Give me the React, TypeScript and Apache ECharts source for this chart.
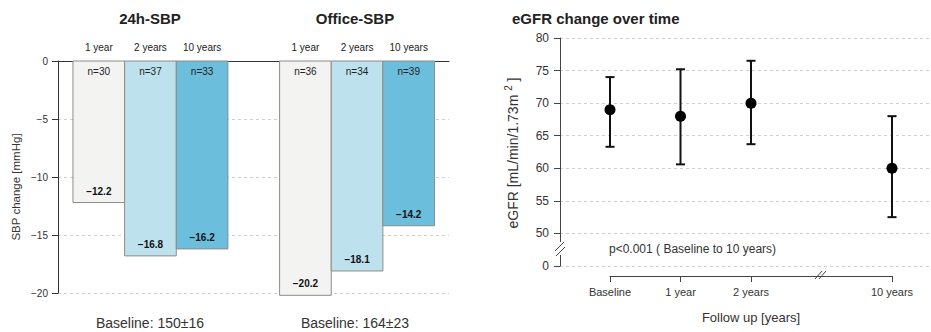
import React, { useEffect, useRef } from "react";
import * as echarts from "echarts";

// ---------- data ----------
const sbpPanels = ["24h-SBP", "Office-SBP"];
const sbpBaselines = ["Baseline: 150±16", "Baseline: 164±23"];
const periods = ["1 year", "2 years", "10 years"];
const sbp24h = [-12.2, -16.8, -16.2];
const sbpOffice = [-20.2, -18.1, -14.2];
const n24h = [30, 37, 33];
const nOffice = [36, 34, 39];

const egfrCats = ["Baseline", "1 year", "2 years", "10 years"];
const egfrMean = [69, 68, 70, 60];
const egfrLow = [63.3, 60.6, 63.7, 52.5];
const egfrHigh = [74.0, 75.2, 76.5, 68.0];
const pText = "p<0.001 ( Baseline to 10 years)";

// ---------- styles ----------
const FONT = "'Liberation Sans', Arial, sans-serif";
const barColors = ["#f3f4f2", "#bde2ee", "#6cbfdc"];
const TXT = "#333";
const AXIS = "#444";
const GRIDLINE = "#cfcfcf";

const minus = (v: number) => (v < 0 ? "\u2212" + Math.abs(v) : String(v));

export default function App() {
  const ref = useRef<HTMLDivElement>(null);

  useEffect(() => {
    if (!ref.current) return;
    const chart = echarts.init(ref.current, null, { renderer: "svg" });

    const slot = periods.length + 1;
    const barData = [sbp24h, sbpOffice].flatMap((vals, g) =>
      vals.map((v, p) => [g * slot + p, v, p, g === 0 ? n24h[p] : nOffice[p]])
    );

    // category axis for eGFR with a gap (axis break) before the last point
    const egfrAxis = [...egfrCats.slice(0, 3), "", egfrCats[3]];

    const dashed = { show: true, lineStyle: { color: GRIDLINE, type: [3, 3] as any, width: 1 } };

    const option: any = {
      animation: false,
      backgroundColor: "#ffffff",
      textStyle: { fontFamily: FONT },
      grid: [
        { left: 58, right: 482, top: 61, bottom: 39, outerBoundsMode: "none" },
        { left: 560, right: 1, top: 38, bottom: 66, outerBoundsMode: "none" },
        { left: 610, right: 39, top: 38, bottom: 66, outerBoundsMode: "none" },
      ],
      xAxis: [
        {
          gridIndex: 0,
          type: "value",
          position: "top",
          min: -0.79,
          max: 6.78,
          axisLine: { show: true, onZero: false, lineStyle: { color: TXT, width: 1 } },
          axisTick: { show: false },
          axisLabel: { show: false },
          splitLine: { show: false },
        },
        {
          gridIndex: 1,
          type: "value",
          show: false,
          min: 0,
          max: 1,
        },
        {
          gridIndex: 2,
          type: "category",
          data: egfrAxis,
          boundaryGap: false,
          offset: 10,
          axisLine: { show: true, onZero: false, lineStyle: { color: AXIS, width: 1 } },
          axisTick: {
            show: true,
            length: 6,
            interval: (i: number) => egfrAxis[i] !== "",
            lineStyle: { color: AXIS },
          },
          axisLabel: {
            interval: 0,
            fontSize: 11,
            color: TXT,
            margin: 10,
            fontFamily: FONT,
          },
          splitLine: { show: false },
          name: "Follow up [years]",
          nameLocation: "middle",
          nameGap: 35,
          nameTextStyle: { fontSize: 13, color: TXT, fontFamily: FONT },
        },
      ],
      yAxis: [
        {
          gridIndex: 0,
          type: "value",
          min: -20,
          max: 0,
          interval: 5,
          axisLine: { show: true, onZero: false, lineStyle: { color: TXT, width: 1 } },
          axisTick: { show: true, length: 6, lineStyle: { color: TXT } },
          axisLabel: {
            formatter: (v: number) => minus(v),
            fontSize: 10,
            color: TXT,
            margin: 10,
            fontFamily: FONT,
          },
          splitLine: dashed,
        },
        {
          gridIndex: 1,
          type: "value",
          min: 45,
          max: 80,
          interval: 5,
          axisLine: { show: true, onZero: false, lineStyle: { color: AXIS, width: 1 } },
          axisTick: { show: true, length: 6, lineStyle: { color: AXIS } },
          axisLabel: {
            formatter: (v: number) => (v === 45 ? "0" : String(v)),
            fontSize: 12,
            color: TXT,
            margin: 11,
            fontFamily: FONT,
          },
          splitLine: dashed,
        },
        {
          gridIndex: 2,
          type: "value",
          min: 45,
          max: 80,
          show: false,
          splitLine: { show: false },
        },
      ],
      series: [
        {
          type: "custom",
          xAxisIndex: 0,
          yAxisIndex: 0,
          data: barData,
          encode: { x: 0, y: 1 },
          renderItem: (_p: any, api: any) => {
            const x = api.value(0);
            const y = api.value(1);
            const p = api.value(2);
            const n = api.value(3);
            const tl = api.coord([x - 0.5, 0]);
            const br = api.coord([x + 0.5, y]);
            const mid = (tl[0] + br[0]) / 2;
            return {
              type: "group",
              children: [
                {
                  type: "rect",
                  shape: { x: tl[0], y: tl[1], width: br[0] - tl[0], height: br[1] - tl[1] },
                  style: { fill: barColors[p], stroke: "#8c8c8c", lineWidth: 1 },
                },
                {
                  type: "text",
                  x: mid,
                  y: tl[1] - 14,
                  style: {
                    text: periods[p],
                    align: "center",
                    verticalAlign: "middle",
                    fontSize: 10,
                    fill: "#222",
                    fontFamily: FONT,
                  },
                },
                {
                  type: "text",
                  x: mid,
                  y: tl[1] + 10,
                  style: {
                    text: "n=" + n,
                    align: "center",
                    verticalAlign: "middle",
                    fontSize: 10,
                    fill: "#222",
                    fontFamily: FONT,
                  },
                },
                {
                  type: "text",
                  x: mid,
                  y: br[1] - 11.5,
                  style: {
                    text: "\u2212" + Math.abs(y).toFixed(1),
                    align: "center",
                    verticalAlign: "middle",
                    fontSize: 10,
                    fontWeight: "bold",
                    fill: "#111",
                    fontFamily: FONT,
                  },
                },
              ],
            };
          },
        },
        {
          type: "custom",
          xAxisIndex: 2,
          yAxisIndex: 2,
          data: egfrCats.map((c, i) => [c, egfrLow[i], egfrHigh[i]]),
          encode: { x: 0, y: [1, 2] },
          renderItem: (_p: any, api: any) => {
            const xi = api.value(0);
            const lo = api.coord([xi, api.value(1)]);
            const hi = api.coord([xi, api.value(2)]);
            const w = 4.5;
            const st = { stroke: "#111", lineWidth: 2 };
            return {
              type: "group",
              children: [
                { type: "line", shape: { x1: lo[0], y1: lo[1], x2: hi[0], y2: hi[1] }, style: st },
                { type: "line", shape: { x1: lo[0] - w, y1: lo[1], x2: lo[0] + w, y2: lo[1] }, style: st },
                { type: "line", shape: { x1: hi[0] - w, y1: hi[1], x2: hi[0] + w, y2: hi[1] }, style: st },
              ],
            };
          },
        },
        {
          type: "scatter",
          xAxisIndex: 2,
          yAxisIndex: 2,
          data: egfrCats.map((c, i) => [c, egfrMean[i]]),
          symbol: "circle",
          symbolSize: 11,
          itemStyle: { color: "#000", opacity: 1 },
          z: 5,
        },
      ],
      graphic: [
        // left panel titles
        ...sbpPanels.map((t, i) => ({
          type: "text",
          x: i === 0 ? 150 : 355,
          y: 18,
          style: {
            text: t,
            align: "center",
            verticalAlign: "middle",
            fontSize: 15,
            fontWeight: "bold",
            fill: "#222",
            fontFamily: FONT,
          },
        })),
        ...sbpBaselines.map((t, i) => ({
          type: "text",
          x: i === 0 ? 150 : 355,
          y: 323,
          style: {
            text: t,
            align: "center",
            verticalAlign: "middle",
            fontSize: 14,
            fill: TXT,
            fontFamily: FONT,
          },
        })),
        {
          type: "text",
          x: 16,
          y: 187,
          rotation: Math.PI / 2,
          style: {
            text: "SBP change [mmHg]",
            align: "center",
            verticalAlign: "middle",
            fontSize: 11.5,
            fill: TXT,
            fontFamily: FONT,
          },
        },
        // right panel
        {
          type: "text",
          x: 512,
          y: 18,
          style: {
            text: "eGFR change over time",
            align: "left",
            verticalAlign: "middle",
            fontSize: 15,
            fontWeight: "bold",
            fill: "#222",
            fontFamily: FONT,
          },
        },
        {
          type: "text",
          x: 513,
          y: 153,
          rotation: Math.PI / 2,
          style: {
            text: "{a|eGFR [mL/min/1.73m }{s|2}{a| ]}",
            align: "center",
            verticalAlign: "middle",
            fill: TXT,
            fontFamily: FONT,
            rich: {
              a: { fontSize: 14, lineHeight: 19, fill: TXT, fontFamily: FONT },
              s: { fontSize: 10, lineHeight: 19, verticalAlign: "top", fill: TXT, fontFamily: FONT },
            },
          },
        },
        {
          type: "text",
          x: 609,
          y: 249,
          style: {
            text: pText,
            align: "left",
            verticalAlign: "middle",
            fontSize: 12,
            fill: TXT,
            fontFamily: FONT,
          },
        },
        // y-axis break
        { type: "rect", shape: { x: 556, y: 242, width: 8, height: 13 }, style: { fill: "#fff" }, z: 10 },
        { type: "line", shape: { x1: 555, y1: 251, x2: 564, y2: 242 }, style: { stroke: AXIS, lineWidth: 1 }, z: 11 },
        { type: "line", shape: { x1: 556, y1: 256, x2: 565, y2: 247 }, style: { stroke: AXIS, lineWidth: 1 }, z: 11 },
        // x-axis break
        { type: "line", shape: { x1: 815, y1: 279, x2: 822, y2: 271 }, style: { stroke: AXIS, lineWidth: 1 }, z: 11 },
        { type: "line", shape: { x1: 819, y1: 279, x2: 826, y2: 271 }, style: { stroke: AXIS, lineWidth: 1 }, z: 11 },
      ],
    };

    chart.setOption(option);
    return () => chart.dispose();
  }, []);

  return (
    <div
      ref={ref}
      style={{ position: "fixed", left: 0, top: 0, width: 931, height: 332, background: "#fff" }}
    />
  );
}
